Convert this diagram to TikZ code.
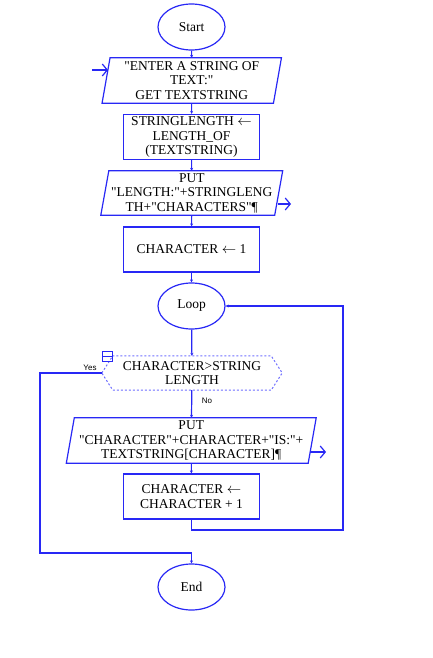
\documentclass[tikz,border=0pt]{standalone}
\usepackage{fontspec}
\setmainfont{Liberation Serif}[Ligatures=TeXOff]
\setsansfont{Liberation Sans}
\usetikzlibrary{arrows.meta,shapes.geometric,calc}
\definecolor{fb}{RGB}{40,40,245}
\definecolor{fbl}{RGB}{110,110,255}
\tikzset{
  txt/.style={align=center, font=\fontsize{13.5}{14.5}\selectfont, inner sep=0pt},
  procbox/.style={txt, draw=fb, line width=1.2pt, rectangle, minimum width=136pt, minimum height=45pt},
  term/.style={txt, draw=fb, ellipse, line width=1.2pt, minimum width=67pt, minimum height=46pt},
  outline/.style={draw=fb, line width=1.2pt},
  flow/.style={draw=fb, line width=1.2pt, -{Stealth[length=3pt,width=3pt]}},
  io/.style={draw=fb, line width=1.2pt, -{Straight Barb[length=5pt,width=12pt]}},
  lab/.style={font=\sffamily\fontsize{8}{9}\selectfont, inner sep=0pt}
}
\begin{document}
\begin{tikzpicture}[x=1pt,y=-1pt]
\useasboundingbox (0,0) rectangle (433,658);

\node[term] (start) at (191.5,27) {Start};

\node[txt, minimum width=171pt, minimum height=45pt] (in) at (191.75,80.5)
  {"ENTER A STRING OF\\TEXT:"\\GET TEXTSTRING};
\draw[outline] ($(in.north west)+(4,0)$) -- ($(in.north east)+(4,0)$)
  -- ($(in.south east)+(-4,0)$) -- ($(in.south west)+(-4,0)$) -- cycle;

\node[procbox] (b1) at (191.5,137) {STRINGLENGTH $\leftarrow$\\LENGTH\_OF\\(TEXTSTRING)};

\node[txt, minimum width=173.5pt, minimum height=44pt] (o1) at (191.75,193)
  {PUT\\"LENGTH:"+STRINGLENG\\TH+"CHARACTERS"¶};
\draw[outline] ($(o1.north west)+(4,0)$) -- ($(o1.north east)+(4,0)$)
  -- ($(o1.south east)+(-4,0)$) -- ($(o1.south west)+(-4,0)$) -- cycle;

\node[procbox] (b2) at (191.5,249.5) {CHARACTER $\leftarrow$ 1};

\node[term] (loop) at (191.5,306) {Loop};

\node[txt, minimum width=180pt, minimum height=34pt] (dec) at (192,373)
  {CHARACTER>STRING\\LENGTH};
\draw[draw=fbl, line width=1pt, dash pattern=on 2pt off 2pt] (dec.west)
  -- ($(dec.north west)+(11,0)$) -- ($(dec.north east)+(-11,0)$) -- (dec.east)
  -- ($(dec.south east)+(-11,0)$) -- ($(dec.south west)+(11,0)$) -- cycle;
\node[draw=fb, line width=0.9pt, minimum size=10pt, inner sep=0pt] (icon) at (107.5,356.5) {};
\draw[fb, line width=0.9pt] (icon.west) -- (icon.east);

\node[txt, minimum width=241.5pt, minimum height=45pt] (o2) at (191.25,440.5)
  {PUT\\"CHARACTER"+CHARACTER+"IS:"+\\TEXTSTRING[CHARACTER]¶};
\draw[outline] ($(o2.north west)+(4,0)$) -- ($(o2.north east)+(4,0)$)
  -- ($(o2.south east)+(-4,0)$) -- ($(o2.south west)+(-4,0)$) -- cycle;

\node[procbox] (b3) at (191.5,496.5) {CHARACTER $\leftarrow$\\CHARACTER + 1};

\node[term] (end) at (191.5,587) {End};

% labels
\node[lab] (yes) at (90,368) {Yes};
\node[lab] (no) at (207,401) {No};

% coordinates
\coordinate (inl) at (92,70);
\coordinate (o1a) at (291,204);
\coordinate (o2a) at (326,452);
\coordinate (yc) at (40,553);
\coordinate (lb) at (343,530);

% connectors
\draw[flow] (start) -- (in);
\draw[flow] (in) -- (b1);
\draw[flow] (b1) -- (o1);
\draw[flow] (o1) -- (b2);
\draw[flow] (b2) -- (loop);
\draw[flow] (loop) -- (dec);
\draw[flow] (dec) -- (o2);
\draw[flow] (o2) -- (b3);
\draw[flow] (dec.west) -| (yc) -| (end.north);
\draw[flow] (b3.south) |- (lb) |- (loop.east);

\draw[io] (inl) -- ($(inl -| in.west)+(2,0)$);
\draw[io] ($(o1.east |- o1a)+(-1,0)$) -- (o1a);
\draw[io] ($(o2.east |- o2a)+(-2,0)$) -- (o2a);
\end{tikzpicture}
\end{document}
